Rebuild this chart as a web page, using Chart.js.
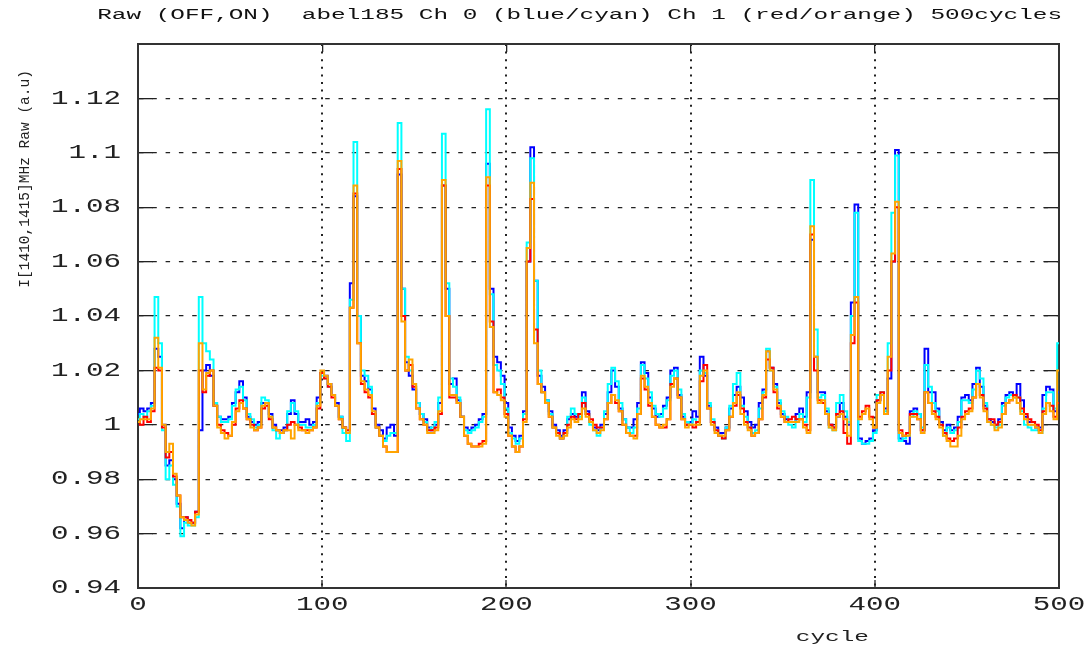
<!DOCTYPE html>
<html><head><meta charset="utf-8">
<script src="https://cdn.jsdelivr.net/npm/chart.js@4.4.1/dist/chart.umd.min.js"></script>
<style>html,body{margin:0;padding:0;background:#fff;}canvas{display:block;}</style>
</head><body>
<canvas id="c" width="1090" height="648"></canvas>
<script>
const cycles = [0,2,4,6,8,10,12,14,16,18,20,22,24,26,28,30,32,34,36,38,40,42,44,46,48,50,52,54,56,58,60,62,64,66,68,70,72,74,76,78,80,82,84,86,88,90,92,94,96,98,
100,102,104,106,108,110,112,114,116,118,120,122,124,126,128,130,132,134,136,138,140,142,144,146,148,150,152,154,156,158,160,162,164,166,168,170,172,174,176,178,180,182,184,186,188,190,192,194,196,198,
200,202,204,206,208,210,212,214,216,218,220,222,224,226,228,230,232,234,236,238,240,242,244,246,248,250,252,254,256,258,260,262,264,266,268,270,272,274,276,278,280,282,284,286,288,290,292,294,296,298,
300,302,304,306,308,310,312,314,316,318,320,322,324,326,328,330,332,334,336,338,340,342,344,346,348,350,352,354,356,358,360,362,364,366,368,370,372,374,376,378,380,382,384,386,388,390,392,394,396,398,
400,402,404,406,408,410,412,414,416,418,420,422,424,426,428,430,432,434,436,438,440,442,444,446,448,450,452,454,456,458,460,462,464,466,468,470,472,474,476,478,480,482,484,486,488,490,492,494,496,498,500];

// Ch 0 OFF (blue)
const ch0Blue = [
1.004,1.006,1.005,1.006,1.008,1.028,1.025,1.000,0.985,0.987,
0.980,0.971,0.962,0.966,0.964,0.964,0.968,0.998,1.020,1.022,
1.018,1.007,1.003,1.002,1.002,1.003,1.008,1.012,1.016,1.010,
1.003,1.001,1.000,1.001,1.008,1.008,1.004,1.000,0.998,0.998,
0.999,1.004,1.009,1.004,1.001,1.001,1.002,1.000,1.001,1.010,
1.019,
1.018,1.015,1.011,1.008,1.003,0.999,0.997,1.052,1.084,1.040,
1.018,1.016,1.013,1.006,1.000,0.998,0.995,0.999,1.000,0.996,
1.092,1.050,1.023,1.018,1.013,1.008,1.004,1.002,0.999,0.998,
1.000,1.008,1.088,1.050,1.015,1.017,1.009,1.003,0.999,0.998,
0.999,1.000,1.002,1.004,1.096,1.050,1.025,1.023,1.018,1.008,
0.999,0.996,0.994,0.996,1.005,1.060,1.102,1.053,1.018,1.014,
1.009,1.005,1.000,0.998,0.996,0.998,1.002,1.004,1.003,1.004,
1.012,1.005,1.001,0.999,0.998,1.000,1.004,1.012,1.020,1.014,
1.006,1.002,0.999,0.999,1.002,1.008,1.023,1.019,1.010,1.006,
1.003,1.004,1.007,1.010,1.020,1.021,1.011,1.003,1.000,1.001,
1.005,1.003,1.025,1.018,1.007,1.001,0.999,0.997,0.997,0.999,
1.006,1.011,1.014,1.010,1.005,1.001,0.999,1.000,1.008,1.013,
1.027,1.021,1.015,1.008,1.004,1.002,1.001,1.001,1.004,1.006,
1.003,1.012,1.068,1.025,1.012,1.012,1.005,1.000,0.999,1.003,
1.008,1.003,1.000,1.045,1.081,0.995,0.993,0.994,0.995,0.998,
1.009,1.011,1.006,1.017,1.060,1.101,0.995,0.994,0.993,1.005,
1.006,1.004,0.998,1.028,1.012,1.012,1.006,1.001,0.998,1.000,
0.998,0.999,1.003,1.010,1.011,1.009,1.015,1.021,1.014,1.007,
1.002,1.001,1.000,1.002,1.008,1.011,1.012,1.011,1.015,1.009,
1.003,1.001,1.001,0.999,0.999,1.011,1.014,1.013,1.005,1.012];

// Ch 0 ON (cyan)
const ch0Cyan = [
1.002,1.004,1.003,1.005,1.007,1.047,1.030,0.998,0.980,0.985,
0.978,0.970,0.959,0.964,0.963,0.963,0.966,1.047,1.030,1.027,
1.024,1.008,1.003,1.001,1.001,1.002,1.007,1.013,1.014,1.009,
1.004,1.002,0.999,1.000,1.010,1.009,1.003,0.998,0.995,0.997,
0.998,1.005,1.008,1.005,1.000,1.000,0.999,0.999,1.000,1.008,
1.018,
1.017,1.014,1.011,1.007,1.003,0.997,0.994,1.046,1.104,1.040,
1.020,1.018,1.014,1.004,0.999,0.996,0.994,0.996,0.997,0.997,
1.111,1.050,1.025,1.020,1.015,1.008,1.004,1.001,0.998,0.999,
1.001,1.010,1.107,1.052,1.017,1.014,1.010,1.003,0.998,0.997,
0.998,0.999,1.001,1.003,1.116,1.048,1.022,1.020,1.015,1.006,
0.997,0.995,0.993,0.995,1.004,1.067,1.098,1.053,1.020,1.012,
1.009,1.004,0.999,0.997,0.995,0.997,1.003,1.006,1.004,1.003,
1.010,1.004,1.000,0.998,0.996,0.999,1.005,1.015,1.021,1.016,
1.008,1.002,0.999,0.997,0.999,1.006,1.022,1.017,1.012,1.007,
1.004,1.003,1.006,1.009,1.018,1.020,1.013,1.004,1.001,1.000,
1.002,1.001,1.020,1.019,1.008,1.002,0.998,0.996,0.995,0.999,
1.007,1.015,1.019,1.007,1.003,0.999,0.997,0.998,1.006,1.012,
1.028,1.020,1.014,1.009,1.005,1.003,1.000,0.999,1.002,1.004,
1.001,1.010,1.090,1.035,1.010,1.011,1.006,0.999,0.998,1.008,
1.011,1.005,1.001,1.040,1.078,0.994,0.993,0.993,0.994,0.997,
1.011,1.012,1.005,1.030,1.078,1.099,0.994,0.995,0.996,1.003,
1.005,1.004,0.999,1.022,1.014,1.008,1.005,1.000,0.996,0.999,
0.997,0.998,1.001,1.009,1.009,1.008,1.013,1.020,1.017,1.008,
1.001,1.000,0.999,1.000,1.007,1.010,1.011,1.010,1.010,1.005,
1.000,0.999,0.998,0.998,0.997,1.006,1.012,1.012,1.006,1.030];

// Ch 1 OFF (red)
const ch1Red = [
1.001,1.000,1.003,1.001,1.005,1.021,1.020,0.999,0.988,0.990,
0.981,0.974,0.966,0.966,0.965,0.964,0.968,1.020,1.012,1.018,
1.020,1.007,1.000,0.998,0.997,0.996,1.000,1.006,1.009,1.006,
1.002,1.000,0.998,0.999,1.006,1.007,1.002,0.999,0.998,0.997,
0.998,1.000,1.001,1.000,0.999,0.998,0.998,0.998,0.999,1.006,
1.019,
1.017,1.014,1.010,1.007,1.002,0.999,0.998,1.043,1.085,1.030,
1.015,1.012,1.010,1.004,0.999,0.996,0.992,0.990,0.990,0.990,
1.094,1.040,1.020,1.022,1.014,1.006,1.002,1.000,0.998,0.998,
0.999,1.004,1.088,1.040,1.010,1.010,1.008,1.003,0.996,0.993,
0.992,0.992,0.993,0.994,1.088,1.038,1.012,1.013,1.010,1.004,
0.996,0.992,0.990,0.992,1.002,1.060,1.083,1.035,1.015,1.012,
1.008,1.003,0.999,0.997,0.995,0.997,1.000,1.003,1.002,1.004,
1.008,1.004,1.002,1.000,0.999,0.999,1.002,1.008,1.011,1.008,
1.005,1.000,0.997,0.996,0.996,1.004,1.017,1.013,1.007,1.003,
1.000,0.999,0.999,1.002,1.015,1.017,1.010,1.002,1.000,1.000,
0.999,1.001,1.016,1.022,1.006,1.001,0.998,0.996,0.995,0.998,
1.003,1.007,1.011,1.006,1.001,0.999,0.996,0.997,1.002,1.010,
1.024,1.021,1.012,1.006,1.003,1.001,1.002,1.003,1.002,1.002,
1.000,0.998,1.070,1.020,1.009,1.008,1.004,1.000,0.999,1.004,
1.005,0.997,0.993,1.030,1.045,1.003,1.005,1.007,1.003,0.999,
1.009,1.012,1.004,1.020,1.060,1.080,0.998,0.996,0.997,1.004,
1.004,1.002,0.998,1.012,1.008,1.005,1.003,1.000,0.997,0.995,
0.994,0.995,0.999,1.003,1.005,1.006,1.010,1.015,1.011,1.006,
1.002,1.002,1.000,1.001,1.004,1.008,1.009,1.011,1.010,1.006,
1.004,1.002,1.001,1.000,0.998,1.005,1.008,1.007,1.003,1.008];

// Ch 1 ON (orange)
const ch1Orange = [
1.001,1.002,1.002,1.002,1.006,1.032,1.021,1.000,0.990,0.993,
0.982,0.974,0.966,0.965,0.964,0.963,0.967,1.030,1.013,1.019,
1.020,1.007,0.999,0.997,0.995,0.996,1.001,1.005,1.008,1.006,
1.002,0.999,0.998,0.999,1.007,1.008,1.003,0.999,0.998,0.997,
0.998,0.998,0.995,1.000,0.998,0.998,0.997,0.998,0.999,1.007,
1.020,
1.018,1.015,1.011,1.007,1.002,0.999,0.997,1.043,1.088,1.030,
1.016,1.013,1.011,1.005,0.999,0.996,0.992,0.990,0.990,0.990,
1.097,1.038,1.020,1.024,1.015,1.006,1.002,1.000,0.997,0.997,
0.998,1.005,1.090,1.040,1.011,1.011,1.008,1.003,0.996,0.993,
0.992,0.992,0.992,0.993,1.091,1.036,1.012,1.011,1.009,1.003,
0.996,0.992,0.990,0.992,1.001,1.065,1.089,1.030,1.015,1.012,
1.008,1.003,0.999,0.996,0.995,0.996,0.999,1.002,1.001,1.002,
1.006,1.003,1.001,0.998,0.997,0.998,1.002,1.008,1.011,1.009,
1.005,1.000,0.997,0.996,0.995,1.004,1.018,1.014,1.008,1.003,
1.000,0.999,1.000,1.002,1.014,1.017,1.010,1.002,0.999,1.000,
1.000,1.000,1.018,1.020,1.006,1.000,0.997,0.996,0.996,0.998,
1.003,1.008,1.012,1.004,1.000,0.998,0.996,0.997,1.002,1.011,
1.027,1.020,1.013,1.007,1.003,1.001,1.001,1.001,1.001,1.002,
0.999,0.997,1.073,1.025,1.008,1.009,1.004,0.999,0.998,1.003,
1.004,1.002,0.996,1.033,1.047,1.002,1.004,1.006,1.002,0.999,
1.008,1.011,1.004,1.025,1.063,1.082,0.997,0.996,0.996,1.003,
1.003,1.002,0.997,1.012,1.008,1.004,1.002,0.999,0.996,0.994,
0.992,0.992,0.996,1.002,1.004,1.005,1.010,1.015,1.010,1.005,
1.001,1.000,0.998,0.999,1.004,1.008,1.009,1.010,1.008,1.004,
1.002,1.000,1.000,0.999,0.997,1.004,1.008,1.005,1.002,1.020];

const xTicks = [0,100,200,300,400,500];
const xTickLabels = ['0','100','200','300','400','500'];
const yTicks = [0.94,0.96,0.98,1,1.02,1.04,1.06,1.08,1.1,1.12,1.14];
const yTickLabels = ['0.94','0.96','0.98','1','1.02','1.04','1.06','1.08','1.1','1.12',''];
const titleText = 'Raw (OFF,ON)  abel185 Ch 0 (blue/cyan) Ch 1 (red/orange) 500cycles';
const xTitle = 'cycle';
const yTitle = 'I[1410,1415]MHz Raw (a.u)';

// horizontal stretch of the wide monospace lettering, keyed by font size
const stretchBySize = {14: 1.74, 20: 1.46};
function installStretch(ctx) {
  if (ctx.__stretched) return;
  const orig = ctx.fillText;
  ctx.fillText = function (text, x, y, maxWidth) {
    const m = /(\d+(?:\.\d+)?)px/.exec(this.font);
    const k = m ? (stretchBySize[parseFloat(m[1])] || 1) : 1;
    if (k === 1) {
      return maxWidth === undefined ? orig.call(this, text, x, y) : orig.call(this, text, x, y, maxWidth);
    }
    this.save();
    this.translate(x, y);
    this.scale(k, 1);
    if (maxWidth === undefined) orig.call(this, text, 0, 0);
    else orig.call(this, text, 0, 0, maxWidth / k);
    this.restore();
  };
  ctx.__stretched = true;
}
const stretchPlugin = { id: 'stretchText', beforeInit(c) { installStretch(c.ctx); }, beforeDraw(c) { installStretch(c.ctx); } };

function series(vals) { return cycles.map((c, i) => ({x: c, y: vals[i]})); }

Chart.defaults.font.family = "'Liberation Mono', monospace";
Chart.defaults.color = '#222';

const setX = s => { s.ticks = xTicks.map(v => ({value: v})); };
const setY = s => { s.ticks = yTicks.map(v => ({value: v})); };

new Chart(document.getElementById('c'), {
  type: 'line',
  data: {
    datasets: [
      {label: 'Ch 0 OFF', data: series(ch0Blue), borderColor: '#0000ff', order: 4},
      {label: 'Ch 0 ON', data: series(ch0Cyan), borderColor: '#00ffff', order: 3},
      {label: 'Ch 1 OFF', data: series(ch1Red), borderColor: '#ff0000', order: 2},
      {label: 'Ch 1 ON', data: series(ch1Orange), borderColor: '#ffa500', order: 1}
    ]
  },
  options: {
    responsive: false,
    devicePixelRatio: 1,
    animation: false,
    events: [],
    datasets: { line: { stepped: 'middle', borderWidth: 2, pointRadius: 0, fill: false, tension: 0 } },
    layout: { padding: {left: 0, right: 28, top: 0, bottom: 0} },
    plugins: {
      legend: {display: false},
      tooltip: {enabled: false},
      title: {display: true, text: titleText, align: 'end', color: '#111',
              font: {size: 14, weight: 'normal'}, padding: {top: 6.6, bottom: 20.6}}
    },
    scales: {
      x: {
        type: 'linear', position: 'bottom', min: 0, max: 500, bounds: 'data',
        afterBuildTicks: setX, afterFit: s => { s.height = 60; },
        ticks: {padding: 13, color: '#222', font: {size: 20}, maxRotation: 0, autoSkip: false,
                callback: (v, i) => xTickLabels[i]},
        grid: {color: '#222', lineWidth: 2, tickLength: -8, tickColor: '#222', tickWidth: 1.3},
        border: {display: true, color: '#333', width: 2, dash: [2, 5.6]},
        title: {display: true, text: xTitle + '             ', align: 'end', color: '#222',
                font: {size: 14}, padding: {top: 0, bottom: 2.6}}
      },
      x2: {
        type: 'linear', position: 'top', min: 0, max: 500, bounds: 'data',
        afterBuildTicks: setX, afterFit: s => { s.height = 0; },
        ticks: {display: false},
        grid: {drawOnChartArea: false, tickLength: -8, color: '#222', lineWidth: 1.3},
        border: {display: true, color: '#333', width: 2}
      },
      y: {
        type: 'linear', position: 'left', min: 0.94, max: 1.14, bounds: 'data',
        afterBuildTicks: setY, afterFit: s => { s.width = 138; },
        ticks: {padding: 32, color: '#222', font: {size: 20}, autoSkip: false,
                callback: (v, i) => yTickLabels[i]},
        grid: {color: '#222', lineWidth: 1.3, tickLength: -15, tickColor: '#222', tickWidth: 1.3},
        border: {display: true, color: '#333', width: 2, dash: [4.5, 8.8]},
        title: {display: true, text: yTitle + '   ', align: 'end', color: '#222',
                font: {size: 14.5}, padding: {top: 16, bottom: 0}}
      },
      y2: {
        type: 'linear', position: 'right', min: 0.94, max: 1.14, bounds: 'data',
        afterBuildTicks: setY, afterFit: s => { s.width = 0; },
        ticks: {display: false},
        grid: {drawOnChartArea: false, tickLength: -15, color: '#222', lineWidth: 1.3},
        border: {display: true, color: '#333', width: 2}
      }
    }
  },
  plugins: [stretchPlugin]
});
</script>
</body></html>
